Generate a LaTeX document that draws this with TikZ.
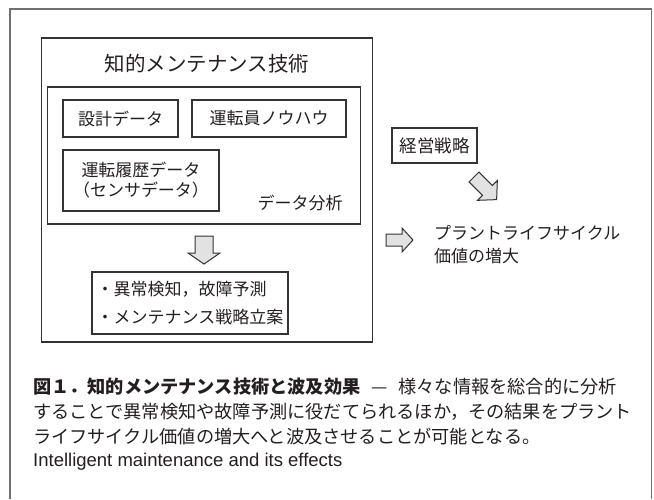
\documentclass[tikz,border=0pt]{standalone}
\usepackage{fontspec}
\setmainfont{Noto Sans CJK JP}
\newfontfamily\jp{Noto Sans CJK JP}
\newfontfamily\en{Liberation Sans}
\definecolor{lc}{HTML}{333333}
\definecolor{fc}{HTML}{707070}
\definecolor{af}{HTML}{E2E2E2}
\definecolor{tc}{HTML}{231F20}
\begin{document}
\begin{tikzpicture}[x=1pt,y=-1pt,
  frame/.style={draw=fc, line width=1.2pt},
  box/.style={draw=lc, line width=1.2pt, inner sep=0pt, rectangle, text=tc},
  lbl/.style={font=\jp\fontsize{17}{20}\selectfont, text=tc, inner sep=0pt},
  blockarrow/.style={draw=lc, line width=1pt, fill=af, line join=miter},
  captext/.style={font=\jp\fontsize{18.2}{22}\selectfont, text=tc, inner sep=0pt, anchor=west},
]
\useasboundingbox (0,0) rectangle (654,499);
% outer frame (open at the bottom)
\draw[frame] (10,499) -- (10,9) -- (651.5,9) -- (651.5,499);

% main technology box
\node[box, minimum width=331pt, minimum height=304pt] (tech) at (207,190) {};
\node[lbl, font=\jp\fontsize{20.5}{24}\selectfont] (title) at (207,64) {知的メンテナンス技術};

% data analysis box
\node[box, minimum width=313pt, minimum height=137pt] (analysis) at (204,155.5) {};
\node[lbl] (analysislbl) at (300,203) {データ分析};

\node[box, lbl, draw=lc, line width=1.2pt, minimum width=115pt, minimum height=37pt] (design) at (120.5,118.5) {設計データ};
\node[box, lbl, draw=lc, line width=1.2pt, minimum width=154pt, minimum height=37pt] (knowhow) at (269,118.5) {運転員ノウハウ};
\node[box, lbl, draw=lc, line width=1.2pt, minimum width=156pt, minimum height=61pt, align=center,
      font=\jp\fontsize{17}{20}\selectfont] (history) at (141,180.5) {運転履歴データ\\（センサデータ）};

% result box
\node[box, lbl, draw=lc, line width=1.2pt, minimum width=196pt, minimum height=62pt, align=left,
      font=\jp\fontsize{17}{28}\selectfont] (result) at (190,303) {・異常検知，故障予測\\・メンテナンス戦略立案};

% management strategy
\node[box, lbl, draw=lc, line width=1.2pt, minimum width=85pt, minimum height=35pt,
      font=\jp\fontsize{17.5}{20}\selectfont] (strategy) at (434.5,145.5) {経営戦略};

% plant lifecycle value
\node[lbl, anchor=west, align=left, font=\jp\fontsize{17}{23}\selectfont] (value) at (434,244.5) {プラントライフサイクル\\価値の増大};

% block arrows
\draw[blockarrow, shift={(204,236)}, rotate=-90]
  (0,-9) -- (17,-9) -- (17,-16) -- (28,0) -- (17,16) -- (17,9) -- (0,9) -- cycle;
\draw[blockarrow, shift={(386,240)}]
  (0,-6) -- (16,-6) -- (16,-12) -- (27,0) -- (16,12) -- (16,6) -- (0,6) -- cycle;
\draw[blockarrow, shift={(474,177)}, rotate=-45]
  (0,-7) -- (19,-7) -- (19,-14) -- (32,0) -- (19,14) -- (19,7) -- (0,7) -- cycle;

% caption
\node[captext] (cap1) at (33,387) {{\bfseries 図１．知的メンテナンス技術と波及効果}\hspace{0.6em}—\hspace{0.6em}様々な情報を総合的に分析};
\node[captext] (cap2) at (33,412) {することで異常検知や故障予測に役だてられるほか，その結果をプラント};
\node[captext] (cap3) at (33,437) {ライフサイクル価値の増大へと波及させることが可能となる。};
\node[captext, font=\en\fontsize{18.5}{22}\selectfont] (cap4) at (33,462) {Intelligent maintenance and its effects};
\end{tikzpicture}
\end{document}
